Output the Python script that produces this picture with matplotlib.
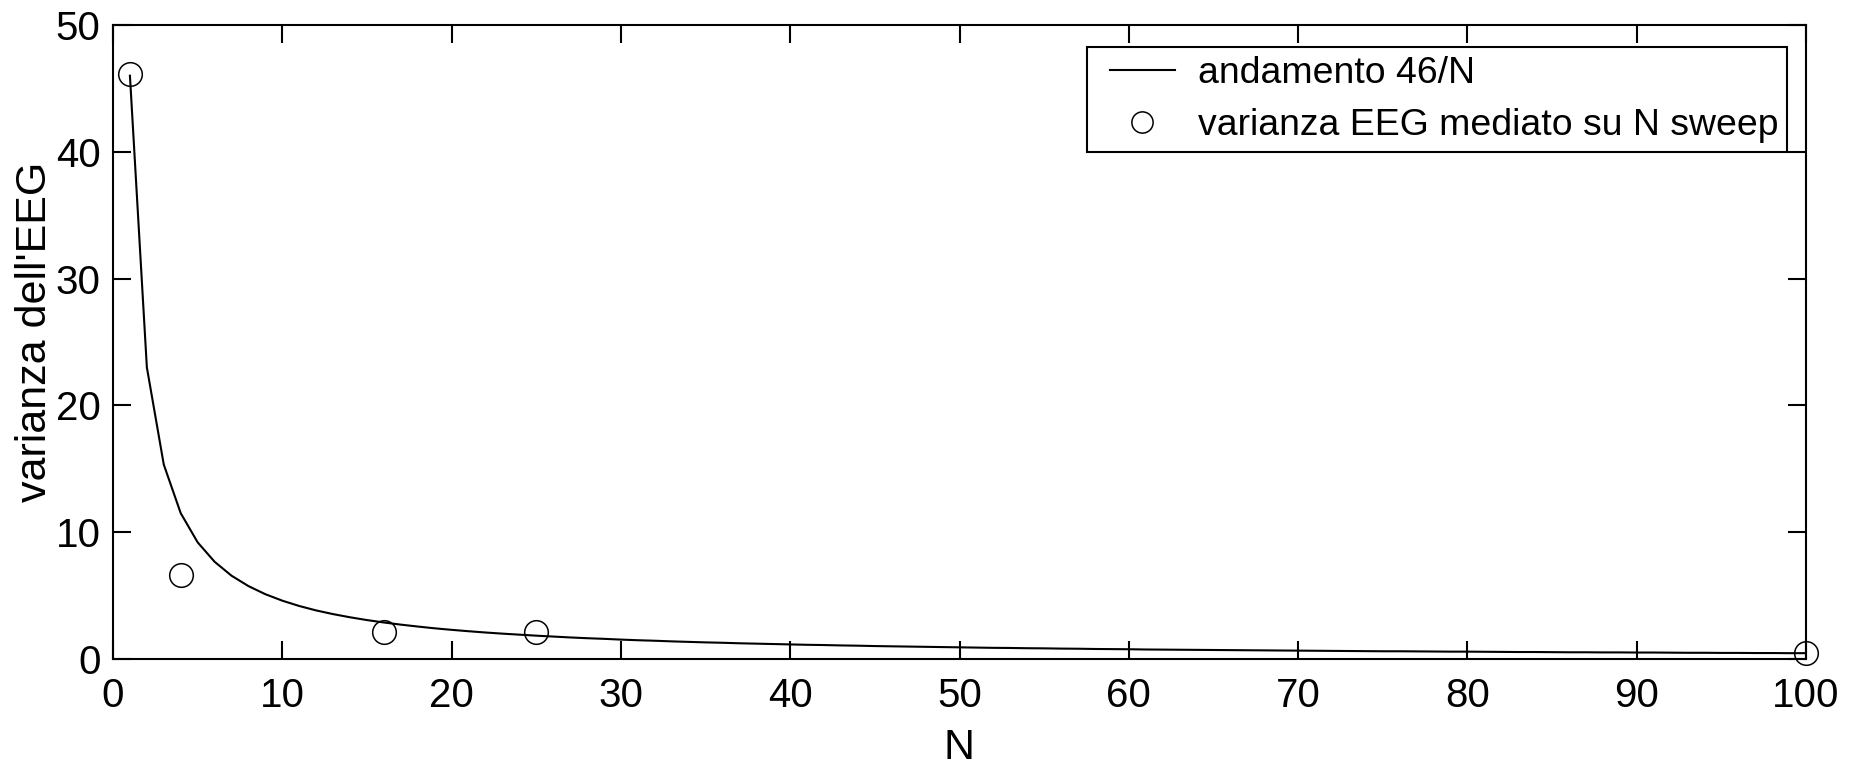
import matplotlib
matplotlib.use("Agg")
import matplotlib.pyplot as plt
from matplotlib import font_manager
from matplotlib.font_manager import FontProperties
from matplotlib.textpath import TextPath
from matplotlib.legend_handler import HandlerLine2D

# ---- data ----
n_line = list(range(1, 101))
var_line = [46.00, 23.00, 15.33, 11.50, 9.20, 7.67, 6.57, 5.75, 5.11, 4.60,
            4.18, 3.83, 3.54, 3.29, 3.07, 2.88, 2.71, 2.56, 2.42, 2.30,
            2.19, 2.09, 2.00, 1.92, 1.84, 1.77, 1.70, 1.64, 1.59, 1.53,
            1.48, 1.44, 1.39, 1.35, 1.31, 1.28, 1.24, 1.21, 1.18, 1.15,
            1.12, 1.10, 1.07, 1.05, 1.02, 1.00, 0.98, 0.96, 0.94, 0.92,
            0.90, 0.88, 0.87, 0.85, 0.84, 0.82, 0.81, 0.79, 0.78, 0.77,
            0.75, 0.74, 0.73, 0.72, 0.71, 0.70, 0.69, 0.68, 0.67, 0.66,
            0.65, 0.64, 0.63, 0.62, 0.61, 0.61, 0.60, 0.59, 0.58, 0.58,
            0.57, 0.56, 0.55, 0.55, 0.54, 0.53, 0.53, 0.52, 0.52, 0.51,
            0.51, 0.50, 0.49, 0.49, 0.48, 0.48, 0.47, 0.47, 0.46, 0.46]
n_sweep = [1, 4, 16, 25, 100]
var_sweep = [46.1, 6.6, 2.1, 2.15, 0.5]
x_ticks = [0, 10, 20, 30, 40, 50, 60, 70, 80, 90, 100]
y_ticks = [0, 10, 20, 30, 40, 50]
label_line = "andamento 46/N"
label_pts = "varianza EEG mediato su N sweep"
xlabel = "N"
ylabel = "varianza dell'EEG"

avail = {f.name for f in font_manager.fontManager.ttflist}
base = next((f for f in ['Liberation Sans', 'Arimo'] if f in avail), 'DejaVu Sans')
plt.rcParams['font.family'] = [base, 'DejaVu Sans']

W, H = 1852, 766
fig = plt.figure(figsize=(W / 100, H / 100), dpi=100)
L, R, T, B = 113, 1806, 25, 659
ax = fig.add_axes([L / W, (H - B) / H, (R - L) / W, (B - T) / H])

line, = ax.plot(n_line, var_line, color='black', lw=1.5, label=label_line)
pts, = ax.plot(n_sweep, var_sweep, linestyle='none', marker='o', markersize=17,
               markerfacecolor='none', markeredgecolor='black', markeredgewidth=1.1,
               label=label_pts, clip_on=False)

ax.set_xlim(0, 100)
ax.set_ylim(0, 50)
ax.set_xticks(x_ticks)
ax.set_yticks(y_ticks)
ax.tick_params(direction='in', length=13, width=1.5, top=True, right=True,
               labelsize=29)
ax.tick_params(axis='x', pad=13)
ax.tick_params(axis='y', pad=9)
for s in ax.spines.values():
    s.set_linewidth(1.5)

ax.set_xlabel(xlabel, fontsize=31)
ax.xaxis.label.set_va('center')
ax.xaxis.set_label_coords(0.5, (B - 748) / (B - T))

yl = ax.set_ylabel(ylabel, fontsize=31)
yl.set_va('center')
ax.yaxis.set_label_coords((35 - L) / (R - L), (B - 332) / (B - T))

# legend font sized so that the longest label is as wide as in the reference
wl = TextPath((0, 0), label_pts, size=100, prop=FontProperties(family=base)).get_extents().width
fs_leg = 100 * (578 * 0.72) / wl
E = fs_leg * 100 / 72

fig.canvas.draw()
r = fig.canvas.get_renderer()


def make_leg(ls):
    hm = {line: HandlerLine2D(xpad=14 / E), pts: HandlerLine2D(xpad=14 / E)}
    lg = ax.legend(loc='upper right', bbox_to_anchor=(1787 / W, 1 - 47 / H),
                   bbox_transform=fig.transFigure,
                   prop={'family': base, 'size': fs_leg}, frameon=True,
                   fancybox=False, edgecolor='black', framealpha=1,
                   borderaxespad=0, handlelength=79 / E, handletextpad=23 / E,
                   borderpad=9 / E, labelspacing=ls, markerscale=0.9,
                   handler_map=hm)
    lg.get_frame().set_linewidth(1.5)
    return lg


ls = 0.15
leg = make_leg(ls)
fig.canvas.draw()
hl = leg.get_window_extent(r).height
ls = ls + (105 - hl) / E
leg = make_leg(ls)

fig.savefig("out.png", dpi=100)
